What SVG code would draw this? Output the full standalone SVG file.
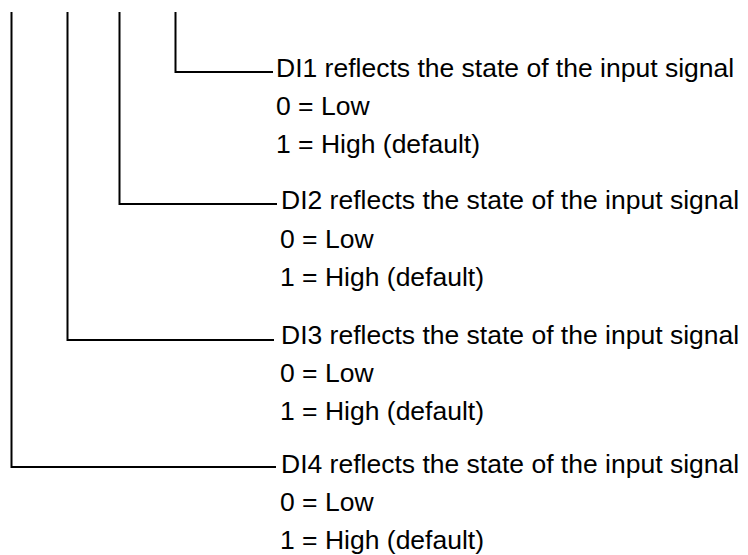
<svg xmlns="http://www.w3.org/2000/svg" width="748" height="555" viewBox="0 0 748 555">
<style>
.c{fill:none;stroke:#000;stroke-width:2}
.t{font-family:"Liberation Sans",Arial,sans-serif;font-size:26.5px;fill:#000}
</style>
<rect width="748" height="555" fill="#fff"/>
<g id="connectors">
<polyline class="c" points="175.5,12 175.5,72 273,72"/>
<polyline class="c" points="119.5,12 119.5,204 277,204"/>
<polyline class="c" points="67.5,12 67.5,340 274,340"/>
<polyline class="c" points="11.5,12 11.5,467 276,467"/>
</g>
<g id="DI1">
<text class="t" x="276" y="77">DI1 reflects the state of the input signal</text>
<text class="t" x="276" y="115">0 = Low</text>
<text class="t" x="276" y="153">1 = High (default)</text>
</g>
<g id="DI2">
<text class="t" x="281" y="209">DI2 reflects the state of the input signal</text>
<text class="t" x="280" y="248">0 = Low</text>
<text class="t" x="280" y="286">1 = High (default)</text>
</g>
<g id="DI3">
<text class="t" x="281" y="344">DI3 reflects the state of the input signal</text>
<text class="t" x="280" y="382">0 = Low</text>
<text class="t" x="280" y="420">1 = High (default)</text>
</g>
<g id="DI4">
<text class="t" x="281" y="473">DI4 reflects the state of the input signal</text>
<text class="t" x="280" y="511">0 = Low</text>
<text class="t" x="280" y="549">1 = High (default)</text>
</g>
</svg>
